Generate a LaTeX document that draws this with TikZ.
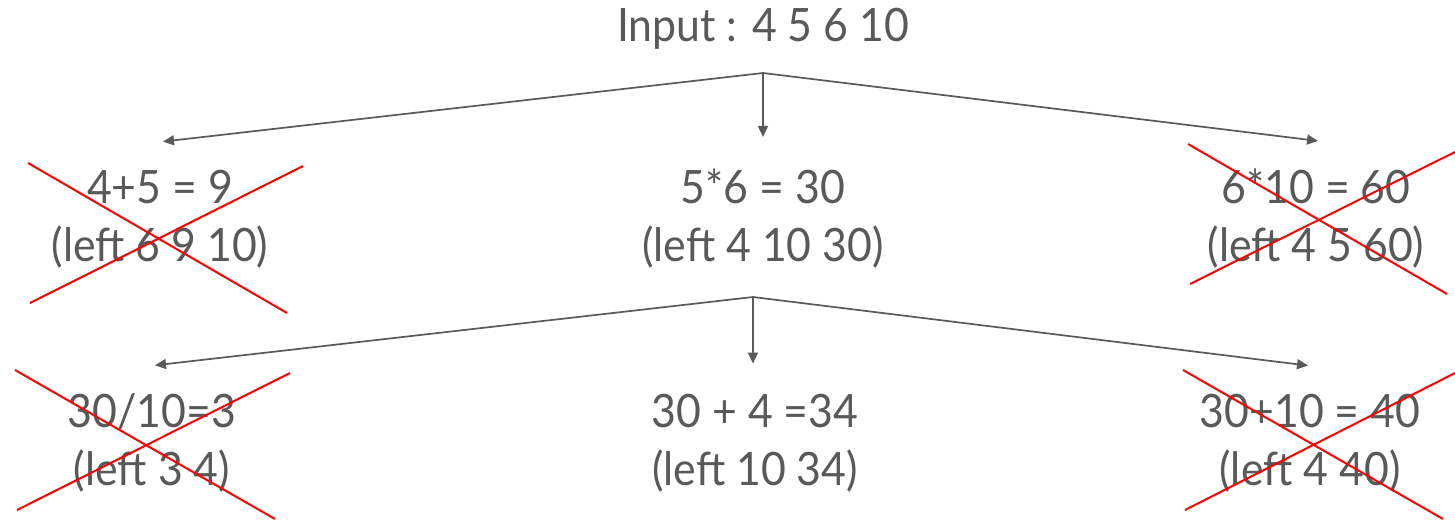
\documentclass[tikz,border=0pt]{standalone}
\usepackage{fontspec}
\setmainfont{Lato}[FakeStretch=0.93]
\usetikzlibrary{arrows.meta}
\definecolor{txt}{HTML}{595959}
\definecolor{ln}{HTML}{595959}
\begin{document}
\begin{tikzpicture}[x=0.5pt,y=-0.5pt,
  lbl/.style={text=txt,font=\fontsize{23}{29}\selectfont,align=center,inner xsep=2pt,inner ysep=14pt},
  conn/.style={draw=ln,line width=0.85pt,-{Triangle[length=5.5pt,width=5pt]}},
  cross/.style={draw=red,line width=1pt}]
\useasboundingbox (0,0) rectangle (1455,521);
\node[lbl,inner ysep=2pt] (in) at (763,29) {Input : 4 5 6 10};
\coordinate (b1) at (763,73);
\node[lbl] (a1) at (160,219) {4+5 = 9\\(left 6 9 10)};
\node[lbl] (a2) at (763,219) {5*6 = 30\\(left 4 10 30)};
\node[lbl] (a3) at (1316,219) {6*10 = 60\\(left 4 5 60)};
\coordinate (b2) at (753,297);
\node[lbl] (c1) at (152,443) {30/10=3\\(left 3 4)};
\node[lbl] (c2) at (755,443) {30 + 4 =34\\(left 10 34)};
\node[lbl] (c3) at (1310,443) {30+10 = 40\\(left 4 40)};
\draw[conn] (b1) -- ([xshift=1.5pt]a1.north);
\draw[conn] (b1) -- ([yshift=2pt]a2.north);
\draw[conn] (b1) -- ([xshift=1pt]a3.north);
\draw[conn] (b2) -- ([xshift=1.5pt]c1.north);
\draw[conn] (b2) -- ([xshift=-1pt,yshift=1pt]c2.north);
\draw[conn] (b2) -- ([xshift=-1pt]c3.north);
\draw[cross] (28,163) -- (287,313);
\draw[cross] (30,303) -- (303,166);
\draw[cross] (1188,144) -- (1447,294);
\draw[cross] (1190,284) -- (1455,152);
\draw[cross] (15,370) -- (275,519);
\draw[cross] (17,510) -- (290,373);
\draw[cross] (1183,370) -- (1443,519);
\draw[cross] (1185,510) -- (1455,373);
\end{tikzpicture}
\end{document}
